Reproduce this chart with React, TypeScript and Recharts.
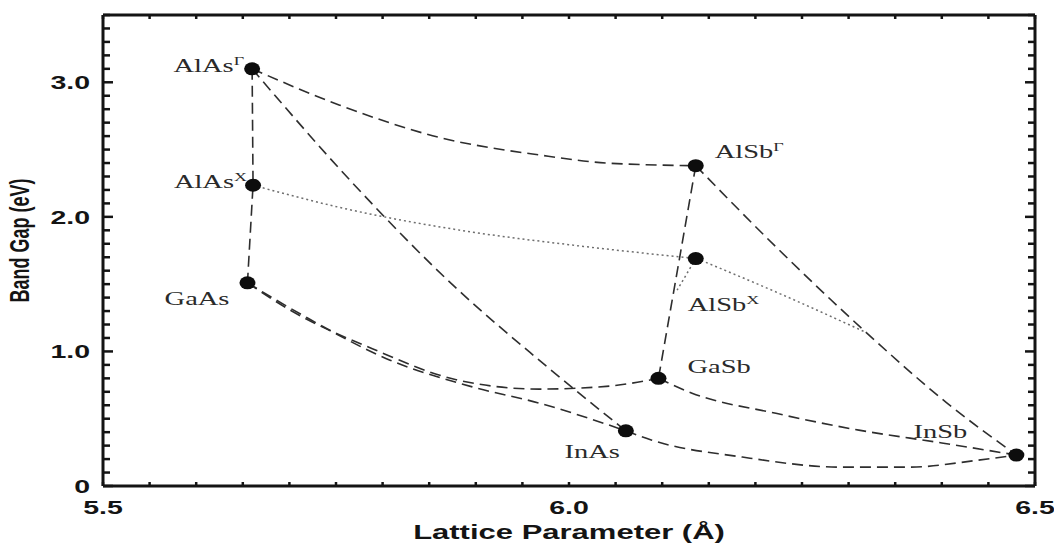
import React from 'react';
import { ComposedChart, Line, Scatter, XAxis, YAxis } from 'recharts';

// binary end points: lattice parameter (Å) and band gap (eV)
const compoundNames = ['AlAs', 'AlAs', 'GaAs', 'AlSb', 'AlSb', 'GaSb', 'InAs', 'InSb'];
const compoundSups = ['Γ', 'X', '', 'Γ', 'X', '', '', ''];
const latticeConst = [5.66, 5.661, 5.655, 6.136, 6.136, 6.096, 6.061, 6.48];
const bandGap = [3.1, 2.235, 1.51, 2.38, 1.69, 0.8, 0.41, 0.23];

// ternary curves, [lattice, gap]
const alAsColumn = [[5.66, 3.1], [5.661, 2.235], [5.655, 1.51]];
const alAsSbGamma = [[5.66, 3.1], [5.754, 2.83], [5.861, 2.59], [5.968, 2.46], [6.04, 2.4], [6.136, 2.38]];
const alInAsGamma = [[5.66, 3.1], [5.768, 2.25], [5.879, 1.47], [5.968, 0.935], [6.061, 0.41]];
const alAsSbX = [[5.661, 2.235], [5.754, 2.07], [5.897, 1.886], [6.004, 1.79], [6.136, 1.69]];
const alGaSbGamma = [[6.136, 2.38], [6.096, 0.8]];
const alGaSbX = [[6.136, 1.69], [6.116, 1.455]];
const alInSbGamma = [[6.136, 2.38], [6.226, 1.75], [6.319, 1.14], [6.405, 0.62], [6.48, 0.23]];
const alInSbX = [[6.137, 1.69], [6.226, 1.43], [6.319, 1.14]];
const gaAsSb = [[5.655, 1.51], [5.7, 1.31], [5.789, 1.02], [5.879, 0.79], [5.968, 0.72], [6.04, 0.74], [6.096, 0.8]];
const inGaAs = [[5.655, 1.51], [5.719, 1.25], [5.808, 0.935], [5.897, 0.735], [5.968, 0.616], [6.061, 0.41]];
const inAsSb = [[6.061, 0.41], [6.089, 0.34], [6.186, 0.215], [6.293, 0.14], [6.365, 0.14], [6.437, 0.19], [6.48, 0.23]];
const gaInSb = [[6.096, 0.8], [6.132, 0.69], [6.222, 0.54], [6.311, 0.415], [6.4, 0.32], [6.48, 0.23]];

// axis ticks
const xTicks = [5.5, 5.55, 5.6, 5.65, 5.7, 5.75, 5.8, 5.85, 5.9, 5.95, 6.0, 6.05, 6.1, 6.15, 6.2, 6.25, 6.3, 6.35, 6.4, 6.45, 6.5];
const xLabelTicks = [5.5, 6.0, 6.5];
const xTickLabels = ['5.5', '6.0', '6.5'];
const yTicks = [0, 0.1, 0.2, 0.3, 0.4, 0.5, 0.6, 0.7, 0.8, 0.9, 1.0, 1.1, 1.2, 1.3, 1.4, 1.5, 1.6, 1.7, 1.8, 1.9, 2.0,
  2.1, 2.2, 2.3, 2.4, 2.5, 2.6, 2.7, 2.8, 2.9, 3.0, 3.1, 3.2, 3.3, 3.4, 3.5];
const yLabelTicks = [0, 1, 2, 3];
const yTickLabels = ['0', '1.0', '2.0', '3.0'];

const INK = '#141414';
const SANS = '"Liberation Sans", Arial, sans-serif';
const SERIF = '"Liberation Serif", "Times New Roman", serif';
const STRETCH = 1.5; // the source figure is stretched sideways

const toPoints = (pairs: number[][]) => pairs.map(([x, y]) => ({ x, y }));
const findTick = (list: number[], v: number) => list.findIndex(t => Math.abs(t - v) < 1e-6);
const isWhole = (v: number) => Math.abs(v - Math.round(v)) < 1e-6;

const compounds = compoundNames.map((name, i) => ({
  name,
  sup: compoundSups[i],
  x: latticeConst[i],
  y: bandGap[i],
}));

// where each compound label sits relative to its dot
const labelPlacement: Record<string, { dx: number; dy: number; anchor: 'start' | 'end' }> = {
  'AlAsΓ': { dx: -8, dy: 3, anchor: 'end' },
  'AlAsX': { dx: -6, dy: 3, anchor: 'end' },
  'GaAs': { dx: -18, dy: 22, anchor: 'end' },
  'AlSbΓ': { dx: 19, dy: -8, anchor: 'start' },
  'AlSbX': { dx: -8, dy: 52, anchor: 'start' },
  'GaSb': { dx: 29, dy: -5, anchor: 'start' },
  'InAs': { dx: -6, dy: 27, anchor: 'end' },
  'InSb': { dx: -49, dy: -17, anchor: 'end' },
};

const BottomTick = (props: any) => {
  const { x, y, payload } = props;
  const i = findTick(xLabelTicks, payload.value);
  return (
    <g>
      <line x1={x} y1={y} x2={x} y2={y - 4} stroke={INK} strokeWidth={2.5} />
      {i >= 0 && (
        <text transform={`translate(${x},${y + 28}) scale(${STRETCH},1)`} textAnchor="middle"
          fontFamily={SANS} fontWeight="bold" fontSize={19} fill={INK}>{xTickLabels[i]}</text>
      )}
    </g>
  );
};

const TopTick = (props: any) => {
  const { x, y } = props;
  return <line x1={x} y1={y} x2={x} y2={y + 4} stroke={INK} strokeWidth={2.5} />;
};

const LeftTick = (props: any) => {
  const { x, y, payload } = props;
  const i = findTick(yLabelTicks, payload.value);
  const len = isWhole(payload.value) ? 10 : 7;
  return (
    <g>
      <line x1={x} y1={y} x2={x + len} y2={y} stroke={INK} strokeWidth={2.5} />
      {i >= 0 && (
        <text transform={`translate(${x - 13},${y + 7}) scale(${STRETCH},1)`} textAnchor="end"
          fontFamily={SANS} fontWeight="bold" fontSize={19} fill={INK}>{yTickLabels[i]}</text>
      )}
    </g>
  );
};

const RightTick = (props: any) => {
  const { x, y, payload } = props;
  const len = isWhole(payload.value) ? 10 : 7;
  return <line x1={x} y1={y} x2={x - len} y2={y} stroke={INK} strokeWidth={2.5} />;
};

const CompoundDot = (props: any) => {
  const { cx, cy, payload } = props;
  const place = labelPlacement[payload.name + payload.sup];
  return (
    <g>
      <ellipse cx={cx} cy={cy} rx={8} ry={6.5} fill="#0d0d0d" />
      <text transform={`translate(${cx + place.dx},${cy + place.dy}) scale(${STRETCH},1)`}
        textAnchor={place.anchor} fontFamily={SERIF} fontSize={19} fill="#2a2a2a">
        <tspan>{payload.name}</tspan>
        {payload.sup && <tspan dy={-7} fontSize={12}>{payload.sup}</tspan>}
      </text>
    </g>
  );
};

const NoShape = () => <g />;

const dashed = { stroke: '#2e2e2e', strokeWidth: 1.6, strokeDasharray: '11 6' };
const dotted = { stroke: '#6e6e6e', strokeWidth: 1.5, strokeDasharray: '2 3' };

const curves = [
  { key: 'alAsColumn', pts: alAsColumn, look: dashed, kind: 'linear' },
  { key: 'alAsSbGamma', pts: alAsSbGamma, look: dashed, kind: 'monotone' },
  { key: 'alInAsGamma', pts: alInAsGamma, look: dashed, kind: 'monotone' },
  { key: 'alAsSbX', pts: alAsSbX, look: dotted, kind: 'monotone' },
  { key: 'alGaSbGamma', pts: alGaSbGamma, look: dashed, kind: 'linear' },
  { key: 'alGaSbX', pts: alGaSbX, look: dotted, kind: 'linear' },
  { key: 'alInSbGamma', pts: alInSbGamma, look: dashed, kind: 'monotone' },
  { key: 'alInSbX', pts: alInSbX, look: dotted, kind: 'monotone' },
  { key: 'gaAsSb', pts: gaAsSb, look: dashed, kind: 'monotone' },
  { key: 'inGaAs', pts: inGaAs, look: dashed, kind: 'monotone' },
  { key: 'inAsSb', pts: inAsSb, look: dashed, kind: 'monotone' },
  { key: 'gaInSb', pts: gaInSb, look: dashed, kind: 'monotone' },
];

const frameLine = { stroke: INK, strokeWidth: 3 };

const App: React.FC = () => {
  return (
    <div style={{ position: 'absolute', left: 0, top: 0, background: '#fff' }}>
      <ComposedChart width={1054} height={545} margin={{ top: 14, right: 18, bottom: 0, left: 0 }}>
        <XAxis xAxisId="main" type="number" dataKey="x" domain={[5.5, 6.5]} allowDataOverflow
          ticks={xTicks} interval={0} tickSize={0} tickMargin={0} tickLine={false} tick={BottomTick}
          height={59} axisLine={frameLine}
          label={{
            content: (p: any) => (
              <text transform={`translate(${p.viewBox.x + p.viewBox.width / 2},${p.viewBox.y + 53}) scale(1.55,1)`}
                textAnchor="middle" fontFamily={SANS} fontWeight="bold" fontSize={20} fill={INK}>
                Lattice Parameter (Å)
              </text>
            ),
          }} />
        <XAxis xAxisId="top" orientation="top" type="number" dataKey="x" domain={[5.5, 6.5]} allowDataOverflow
          ticks={xTicks} interval={0} tickSize={0} tickMargin={0} tickLine={false} tick={TopTick}
          height={1} axisLine={frameLine} />
        <YAxis yAxisId="main" type="number" dataKey="y" domain={[0, 3.5]} allowDataOverflow
          ticks={yTicks} interval={0} tickSize={0} tickMargin={0} tickLine={false} tick={LeftTick}
          width={103} axisLine={frameLine}
          label={{
            content: (p: any) => (
              <text transform={`translate(${p.viewBox.x + 29},${p.viewBox.y + p.viewBox.height / 2 - 10}) scale(${STRETCH},1) rotate(-90)`}
                textAnchor="middle" fontFamily={SANS} fontWeight="bold" fontSize={18} fill={INK}>
                Band Gap (eV)
              </text>
            ),
          }} />
        <YAxis yAxisId="right" orientation="right" type="number" dataKey="y" domain={[0, 3.5]} allowDataOverflow
          ticks={yTicks} interval={0} tickSize={0} tickMargin={0} tickLine={false} tick={RightTick}
          width={1} axisLine={frameLine} />
        {curves.map(c => (
          <Line key={c.key} xAxisId="main" yAxisId="main" data={toPoints(c.pts)} dataKey="y"
            type={c.kind as any} {...c.look} dot={false} activeDot={false} isAnimationActive={false} />
        ))}
        {/* invisible copy so the frame axes on top and right get a domain */}
        <Scatter xAxisId="top" yAxisId="right" data={compounds} dataKey="y" shape={NoShape}
          isAnimationActive={false} />
        <Scatter xAxisId="main" yAxisId="main" data={compounds} dataKey="y" shape={CompoundDot}
          isAnimationActive={false} />
      </ComposedChart>
    </div>
  );
};

export default App;
